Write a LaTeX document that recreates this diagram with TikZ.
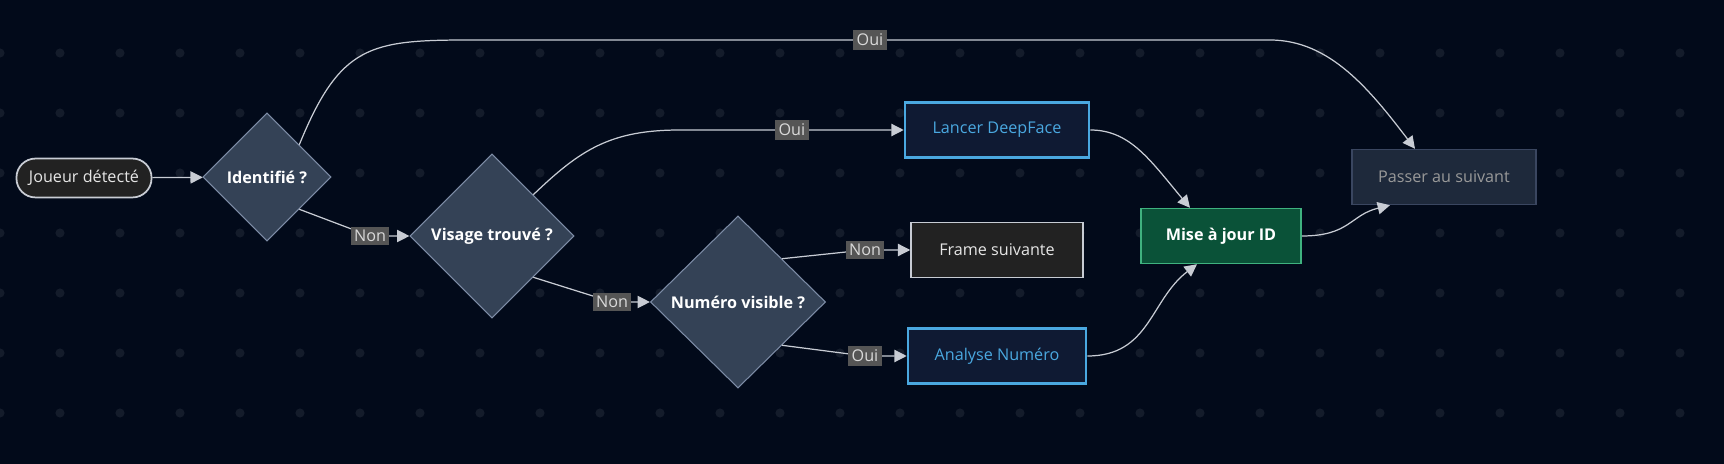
\documentclass[tikz,border=0pt]{standalone}
\usepackage{fontspec}
\setmainfont{Open Sans}
\usetikzlibrary{arrows.meta, shapes.geometric}
\definecolor{bgdark}{HTML}{020A1A}
\definecolor{dotc}{HTML}{141C2B}
\definecolor{decfill}{HTML}{344256}
\definecolor{decline}{HTML}{7D8CA6}
\definecolor{bluefill}{HTML}{0F1A33}
\definecolor{blueline}{HTML}{4AA8E0}
\definecolor{greenfill}{HTML}{0A5238}
\definecolor{greenline}{HTML}{3FB27F}
\definecolor{grayfill}{HTML}{222222}
\definecolor{skipfill}{HTML}{1E293B}
\definecolor{skipline}{HTML}{3A4660}
\definecolor{edgec}{HTML}{C8CCD4}
\definecolor{lblfill}{HTML}{555555}
\begin{document}
\begin{tikzpicture}[
  x=0.01cm, y=-0.01cm,
  font=\fontsize{4.6}{5.5}\selectfont,
  start/.style={draw=edgec, fill=grayfill, rounded corners=5.4pt, line width=0.5pt,
                minimum width=1.35cm, minimum height=0.36cm, text=white!90!black},
  decision/.style={diamond, draw=decline, fill=decfill, inner sep=0pt, line width=0.3pt,
                   text=white, font=\fontsize{4.6}{5.5}\selectfont\bfseries},
  blue box/.style={draw=blueline, fill=bluefill, line width=0.7pt, text=blueline,
                   minimum width=1.84cm, minimum height=0.55cm},
  plain box/.style={draw=edgec, fill=grayfill, line width=0.4pt, text=white!90!black,
                    minimum width=1.72cm, minimum height=0.55cm},
  update box/.style={draw=greenline, fill=greenfill, line width=0.4pt, text=white,
                     minimum width=1.6cm, minimum height=0.55cm,
                     font=\fontsize{4.6}{5.5}\selectfont\bfseries},
  skip box/.style={draw=skipline, fill=skipfill, line width=0.4pt, text=gray!80!white,
                   minimum width=1.84cm, minimum height=0.55cm},
  lbl/.style={fill=lblfill, text=white!85!black, inner sep=1pt},
  arr/.style={-{Triangle[length=3.5pt, width=3.5pt]}, draw=edgec, line width=0.35pt}
]
  % background and dot grid
  \useasboundingbox (0,0) rectangle (1724,464);
  \fill[bgdark] (0,0) rectangle (1724,464);
  \begin{scope}
    \clip (0,0) rectangle (1724,464);
    \foreach \dx in {0,60,...,1720}
      \foreach \dy in {53,113,...,413}
        \fill[dotc] (\dx,\dy) circle (1.3pt);
  \end{scope}

  % nodes
  \node[start] (joueur) at (84,178) {Joueur détecté};
  \node[decision, minimum width=1.28cm, minimum height=1.28cm] (ident) at (267,177) {Identifié ?};
  \node[decision, minimum width=1.64cm, minimum height=1.64cm] (visage) at (492,236) {Visage trouvé ?};
  \node[decision, minimum width=1.75cm, minimum height=1.72cm] (numero) at (738,302) {Numéro visible ?};
  \node[blue box] (deepface) at (997,130) {Lancer DeepFace};
  \node[plain box] (frame) at (997,250) {Frame suivante};
  \node[blue box, minimum width=1.78cm] (analyse) at (997,356) {Analyse Numéro};
  \node[update box] (maj) at (1221,236) {Mise à jour ID};
  \node[skip box] (passer) at (1444,177) {Passer au suivant};

  % connectors
  \draw[arr] (joueur) -- (ident);
  \draw[arr] (ident.north east) .. controls (340,45) and (370,40) .. (470,40)
    -- node[lbl] {Oui} (1270,40) .. controls (1330,40) and (1370,90) .. ([xshift=-0.29cm]passer.north);
  \draw[arr] (ident.south east) -- (370,236) node[lbl] {Non} -- (visage);
  \draw[arr] (visage.north east) .. controls (580,150) and (610,130) .. (680,130)
    -- node[lbl] {Oui} (deepface);
  \draw[arr] (visage.south east) -- (612,302) node[lbl] {Non} -- (numero);
  \draw[arr] (numero.north east) -- (865,250) node[lbl] {Non} -- (frame);
  \draw[arr] (numero.south east) -- (865,356) node[lbl] {Oui} -- (analyse);
  \draw[arr] (deepface.east) .. controls (1130,130) and (1150,160) .. ([xshift=-0.31cm]maj.north);
  \draw[arr] (analyse.east) .. controls (1150,356) and (1150,300) .. ([xshift=-0.24cm]maj.south);
  \draw[arr] (maj.east) .. controls (1350,236) and (1350,215) .. ([xshift=-0.54cm]passer.south);
\end{tikzpicture}
\end{document}
